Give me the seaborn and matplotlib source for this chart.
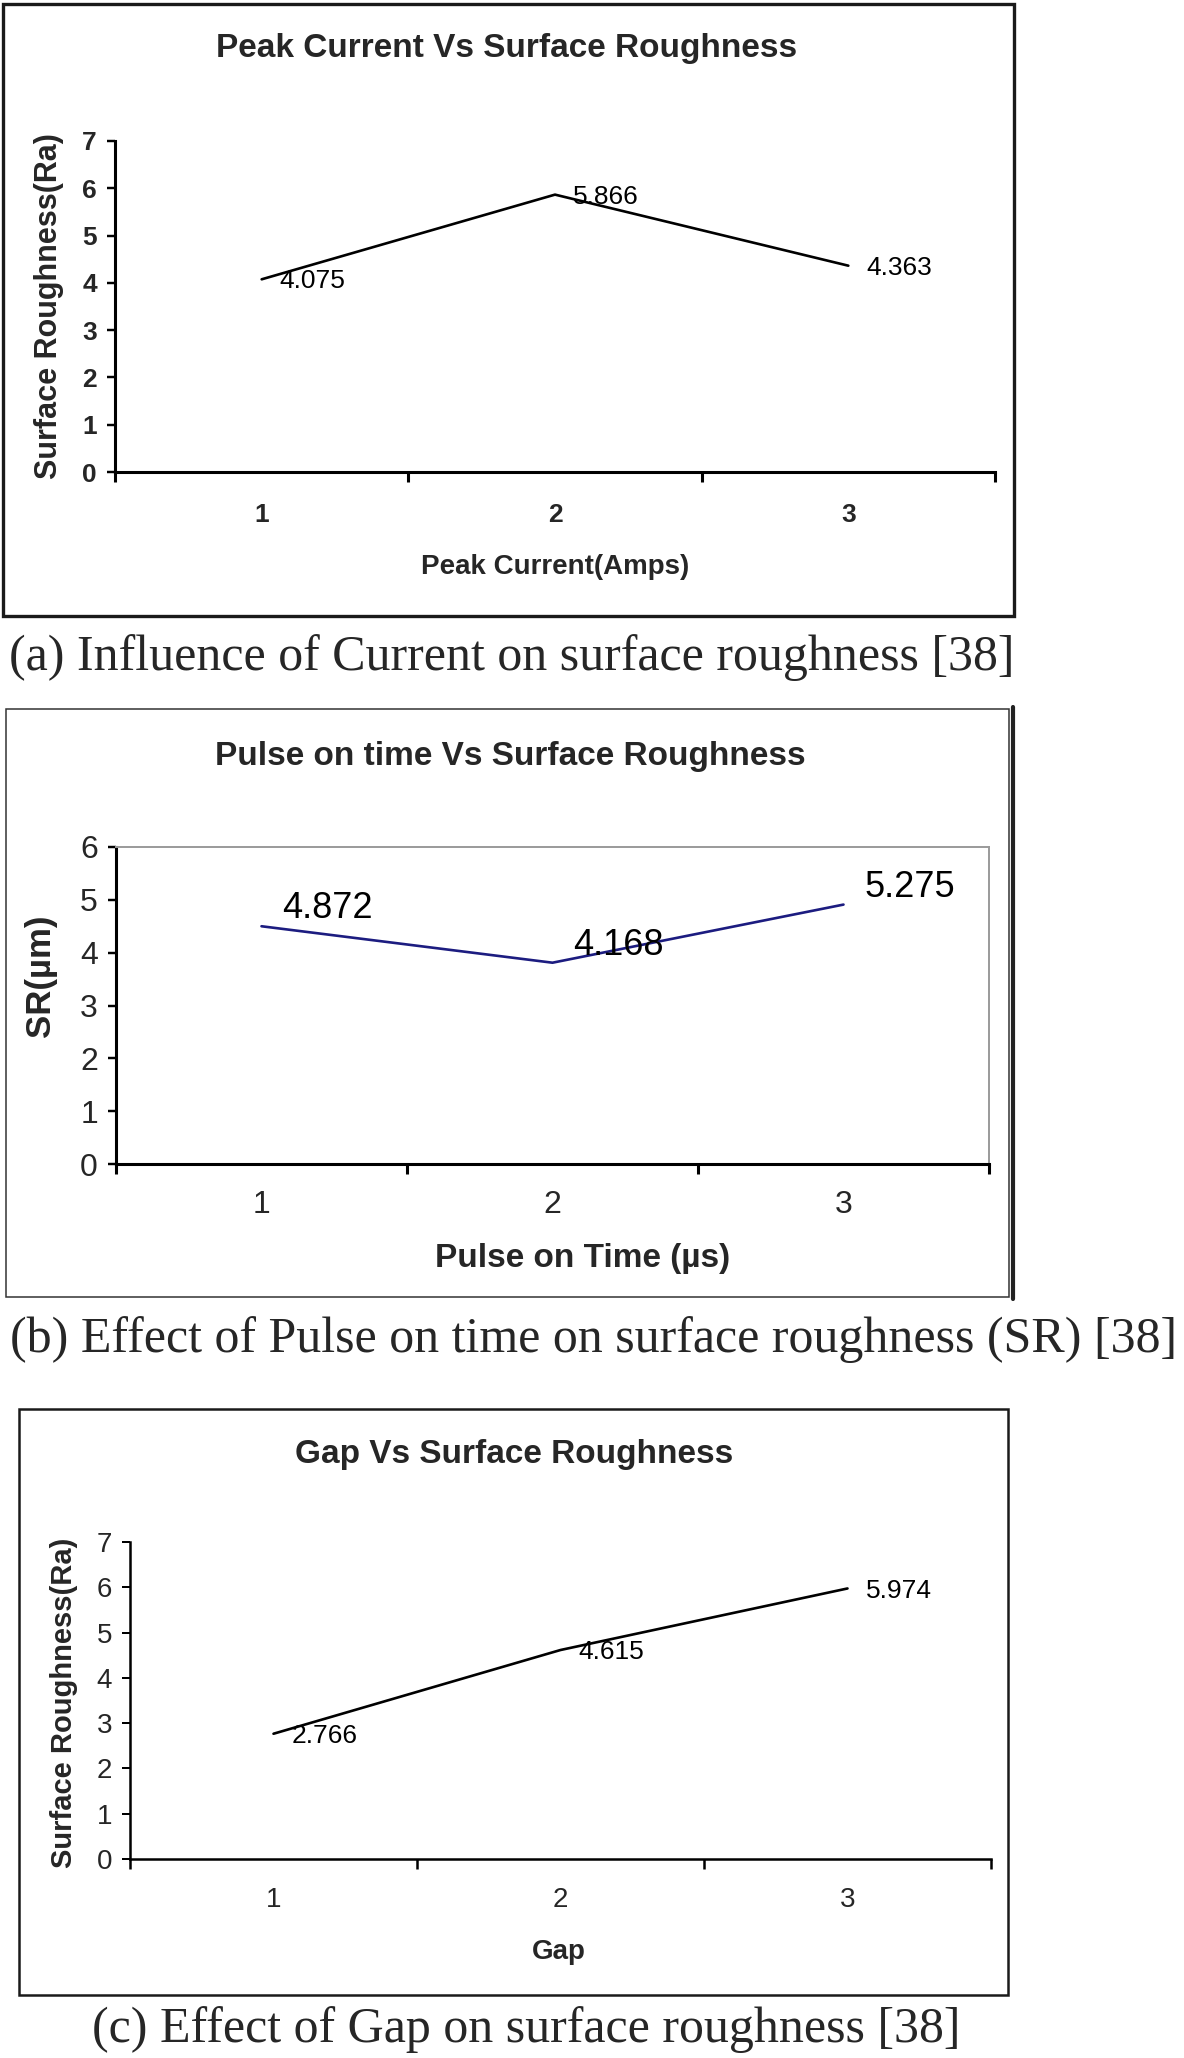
import matplotlib
matplotlib.use('Agg')
import matplotlib.pyplot as plt
import seaborn as sns
from matplotlib.patches import Rectangle
from matplotlib.lines import Line2D

# values
categories = [1, 2, 3]
current_ra = [4.075, 5.866, 4.363]
pulse_sr = [4.50, 3.81, 4.91]          # where the blue line is drawn
pulse_labels = [4.872, 4.168, 5.275]   # numbers printed next to it
gap_ra = [2.766, 4.615, 5.974]

titles = ['Peak Current Vs Surface Roughness',
          'Pulse on time Vs Surface Roughness',
          'Gap Vs Surface Roughness']
xlabels = ['Peak Current(Amps)', 'Pulse on Time (µs)', 'Gap']
ylabels = ['Surface Roughness(Ra)', 'SR(µm)', 'Surface Roughness(Ra)']
captions = ['(a) Influence of Current on surface roughness [38]',
            '(b) Effect of Pulse on time on surface roughness (SR) [38]',
            '(c) Effect of Gap on surface roughness [38]']

sns.set_style('white')
plt.rcParams['font.family'] = ['Liberation Sans', 'DejaVu Sans']

W, H = 1184, 2058
fig = plt.figure(figsize=(W / 100, H / 100), dpi=100)


def px_rect(l, t, r, b):
    return [l / W, 1 - b / H, (r - l) / W, (b - t) / H]


def fig_box(l, t, r, b, lw, color='#1a1a1a'):
    fig.add_artist(Rectangle((l / W, 1 - b / H), (r - l) / W, (b - t) / H,
                             transform=fig.transFigure, fill=False,
                             lw=lw, ec=color))


def setup_axis(ax, ymax, tick_fs, tick_weight, tick_pad, spine_lw):
    ax.set_xlim(0.5, 3.5)
    ax.set_ylim(0, ymax)
    ax.set_yticks(range(ymax + 1))
    ax.set_xticks(categories)
    ax.set_xticklabels([str(c) for c in categories])
    ax.set_xticks([0.5, 1.5, 2.5, 3.5], minor=True)
    ax.tick_params(axis='x', which='major', length=0, pad=tick_pad,
                   labelsize=tick_fs)
    ax.tick_params(axis='x', which='minor', length=7, width=spine_lw,
                   direction='out', bottom=True, color='black')
    ax.tick_params(axis='y', which='major', length=6, width=spine_lw * 0.8,
                   direction='out', left=True, pad=7, labelsize=tick_fs,
                   color='black')
    for lab in ax.get_xticklabels() + ax.get_yticklabels():
        lab.set_fontweight(tick_weight)
    for s in ['left', 'bottom']:
        ax.spines[s].set_linewidth(spine_lw)
        ax.spines[s].set_color('black')
    ax.grid(False)


def label_points(ax, ys, texts, fs, dx):
    for x, y, t in zip(categories, ys, texts):
        ax.annotate(f'{t:.3f}', (x, y), xytext=(dx, -1.5),
                    textcoords='offset points', ha='left', va='center',
                    fontsize=fs, color='black')


# ---------- (a) peak current ----------
fig_box(3, 4, 1014, 616, 2.4)
ax1 = fig.add_axes(px_rect(115, 141, 995, 472))
sns.lineplot(x=categories, y=current_ra, ax=ax1, color='black', lw=1.9)
setup_axis(ax1, 7, 19, 'bold', 22, 2.2)
ax1.spines['top'].set_visible(False)
ax1.spines['right'].set_visible(False)
label_points(ax1, current_ra, current_ra, 19, 13)
ax1.set_xlabel(xlabels[0], fontsize=20, fontweight='bold', va='center')
ax1.xaxis.set_label_coords(0.5, -0.287)
ax1.set_ylabel(ylabels[0], fontsize=22, fontweight='bold', va='center')
ax1.yaxis.set_label_coords(-0.075, 0.5)
fig.text(507 / W, 1 - 49 / H, titles[0], ha='center', va='center',
         fontsize=24, fontweight='bold')
fig.text(512 / W, 1 - 658 / H, captions[0], ha='center', va='center',
         fontsize=36, family=['Liberation Serif', 'DejaVu Serif'])

# ---------- (b) pulse on time ----------
fig_box(6, 709, 1009, 1297, 1.1, '#333333')
fig.add_artist(Line2D([1013 / W, 1013 / W], [1 - 707 / H, 1 - 1299 / H],
                      transform=fig.transFigure, lw=3, color='#222222'))
ax2 = fig.add_axes(px_rect(116, 847, 989, 1164))
sns.lineplot(x=categories, y=pulse_sr, ax=ax2, color='#1c1c80', lw=1.9)
setup_axis(ax2, 6, 23, 'normal', 19, 2.2)
for s in ['top', 'right']:
    ax2.spines[s].set_color('#9a9a9a')
    ax2.spines[s].set_linewidth(1.4)
label_points(ax2, pulse_labels, pulse_labels, 26, 15)
ax2.set_xlabel(xlabels[1], fontsize=24, fontweight='bold', va='center')
ax2.xaxis.set_label_coords(0.535, -0.297)
ax2.set_ylabel(ylabels[1], fontsize=25, fontweight='bold', va='center')
ax2.yaxis.set_label_coords(-0.086, 0.593)
fig.text(510 / W, 1 - 756 / H, titles[1], ha='center', va='center',
         fontsize=24, fontweight='bold')
fig.text(594 / W, 1 - 1340 / H, captions[1], ha='center', va='center',
         fontsize=36, family=['Liberation Serif', 'DejaVu Serif'])

# ---------- (c) gap ----------
fig_box(19, 1409, 1008, 1995, 1.8)
ax3 = fig.add_axes(px_rect(130, 1542, 991, 1859))
sns.lineplot(x=categories, y=gap_ra, ax=ax3, color='black', lw=1.9)
setup_axis(ax3, 7, 20, 'normal', 20, 1.8)
ax3.spines['top'].set_visible(False)
ax3.spines['right'].set_visible(False)
label_points(ax3, gap_ra, gap_ra, 19, 13)
ax3.set_xlabel(xlabels[2], fontsize=20, fontweight='bold', va='center')
ax3.xaxis.set_label_coords(0.498, -0.293)
ax3.set_ylabel(ylabels[2], fontsize=21, fontweight='bold', va='center')
ax3.yaxis.set_label_coords(-0.077, 0.492)
fig.text(514 / W, 1 - 1454 / H, titles[2], ha='center', va='center',
         fontsize=24, fontweight='bold')
fig.text(526 / W, 1 - 2030 / H, captions[2], ha='center', va='center',
         fontsize=36, family=['Liberation Serif', 'DejaVu Serif'])

fig.savefig('out.png', dpi=100, facecolor='white')
